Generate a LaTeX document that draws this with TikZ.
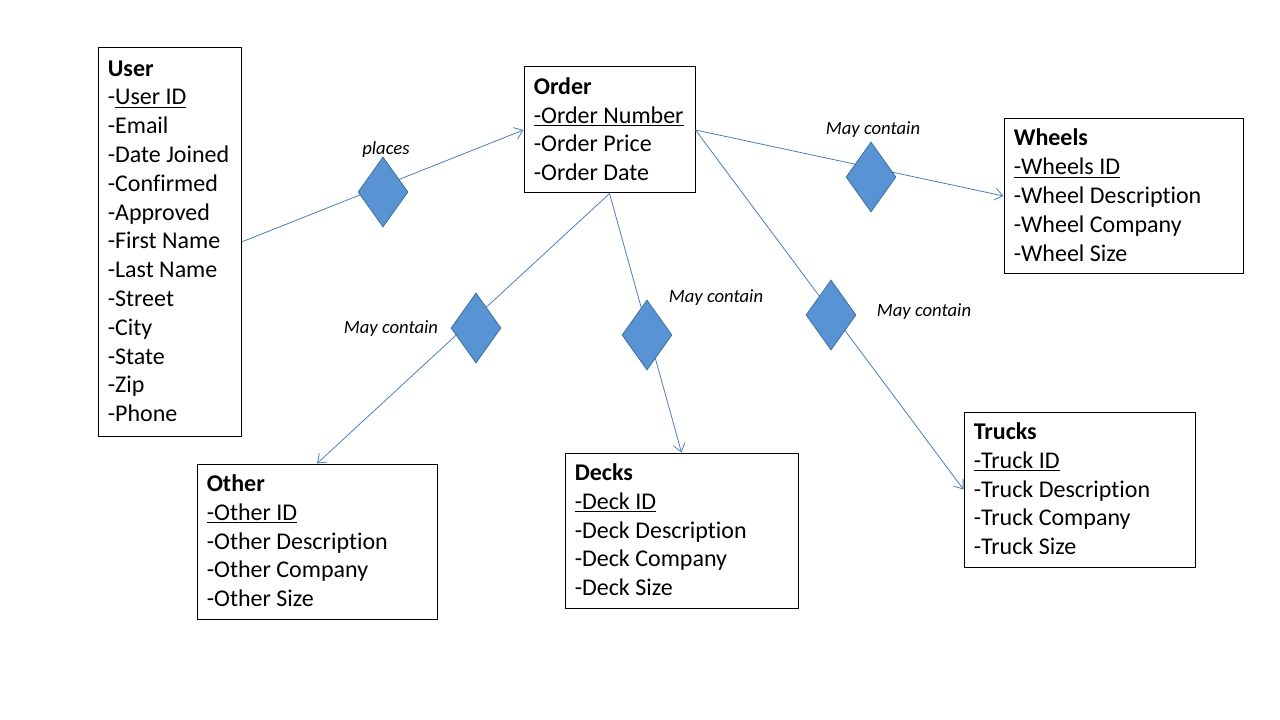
\documentclass[tikz,border=0pt]{standalone}
\usepackage{fontspec}
\setmainfont{Carlito}[Ligatures={NoCommon}]
\usetikzlibrary{shapes.geometric,arrows.meta}
\definecolor{linkblue}{RGB}{74,126,187}
\definecolor{dfill}{RGB}{88,148,212}
\definecolor{dborder}{RGB}{65,113,156}
\begin{document}
\begin{tikzpicture}[x=0.75pt,y=-0.75pt,
  box/.style={draw=black, line width=0.75pt, rectangle, inner sep=0pt},
  attrs/.style={anchor=west, align=left, inner sep=0pt, font=\fontsize{18pt}{21.6pt}\selectfont},
  rel/.style={diamond, draw=dborder, fill=dfill, line width=0.6pt, inner sep=0pt, minimum width=37.5pt, minimum height=52.5pt},
  lbl/.style={font=\fontsize{14pt}{16pt}\selectfont\itshape, inner sep=0pt},
  link/.style={draw=linkblue, line width=0.6pt},
  arr/.style={link, -{Straight Barb[length=6pt,width=9pt]}}]
\useasboundingbox (0,0) rectangle (1280,720);

% entity boxes
\node[box, minimum width=107.25pt, minimum height=291pt] (user) at (169.5,242) {};
\node[box, minimum width=128.25pt, minimum height=94.5pt] (order) at (609.5,130) {};
\node[box, minimum width=179.25pt, minimum height=115.5pt] (wheels) at (1123.5,196) {};
\node[box, minimum width=180pt, minimum height=116.25pt] (other) at (317,541.5) {};
\node[box, minimum width=174.75pt, minimum height=116.25pt] (decks) at (681.5,530.5) {};
\node[box, minimum width=173.25pt, minimum height=116.25pt] (trucks) at (1079.5,489.5) {};

% entity texts
\node[attrs] (usert) at ([xshift=7.5pt,yshift=0.6pt]user.west) {\textbf{User}\\-\underline{User ID}\\-Email\\-Date Joined\\-Confirmed\\-Approved\\-First Name\\-Last Name\\-Street\\-City\\-State\\-Zip\\-Phone};
\node[attrs] (ordert) at ([xshift=7.5pt,yshift=0.6pt]order.west) {\textbf{Order}\\\underline{-Order Number}\\-Order Price\\-Order Date};
\node[attrs] (wheelst) at ([xshift=7.5pt,yshift=0.6pt]wheels.west) {\textbf{Wheels}\\\underline{-Wheels ID}\\-Wheel Description\\-Wheel Company\\-Wheel Size};
\node[attrs] (othert) at ([xshift=7.5pt,yshift=0.6pt]other.west) {\textbf{Other}\\\underline{-Other ID}\\-Other Description\\-Other Company\\-Other Size};
\node[attrs] (deckst) at ([xshift=7.5pt,yshift=0.6pt]decks.west) {\textbf{Decks}\\\underline{-Deck ID}\\-Deck Description\\-Deck Company\\-Deck Size};
\node[attrs] (truckst) at ([xshift=7.5pt,yshift=0.6pt]trucks.west) {\textbf{Trucks}\\\underline{-Truck ID}\\-Truck Description\\-Truck Company\\-Truck Size};

% connectors
\draw[arr] (user.east) -- (order.west);
\draw[arr] (order.east) -- (wheels.west);
\draw[arr] (order.east) -- (trucks.west);
\draw[arr] (order.south) -- (decks.north);
\draw[arr] (order.south) -- (other.north);

% relationship diamonds
\node[rel] (places) at (383,192) {};
\node[rel] (mcwheels) at (871,177) {};
\node[rel] (mcother) at (476,328) {};
\node[rel] (mcdecks) at (647,335) {};
\node[rel] (mctrucks) at (831,315) {};

% labels
\node[lbl] (lplaces) at (386,150) {places};
\node[lbl] (lwheels) at (873,130) {May contain};
\node[lbl] (lother) at (391,329) {May contain};
\node[lbl] (ldecks) at (716,298) {May contain};
\node[lbl] (ltrucks) at (924,312) {May contain};
\end{tikzpicture}
\end{document}
